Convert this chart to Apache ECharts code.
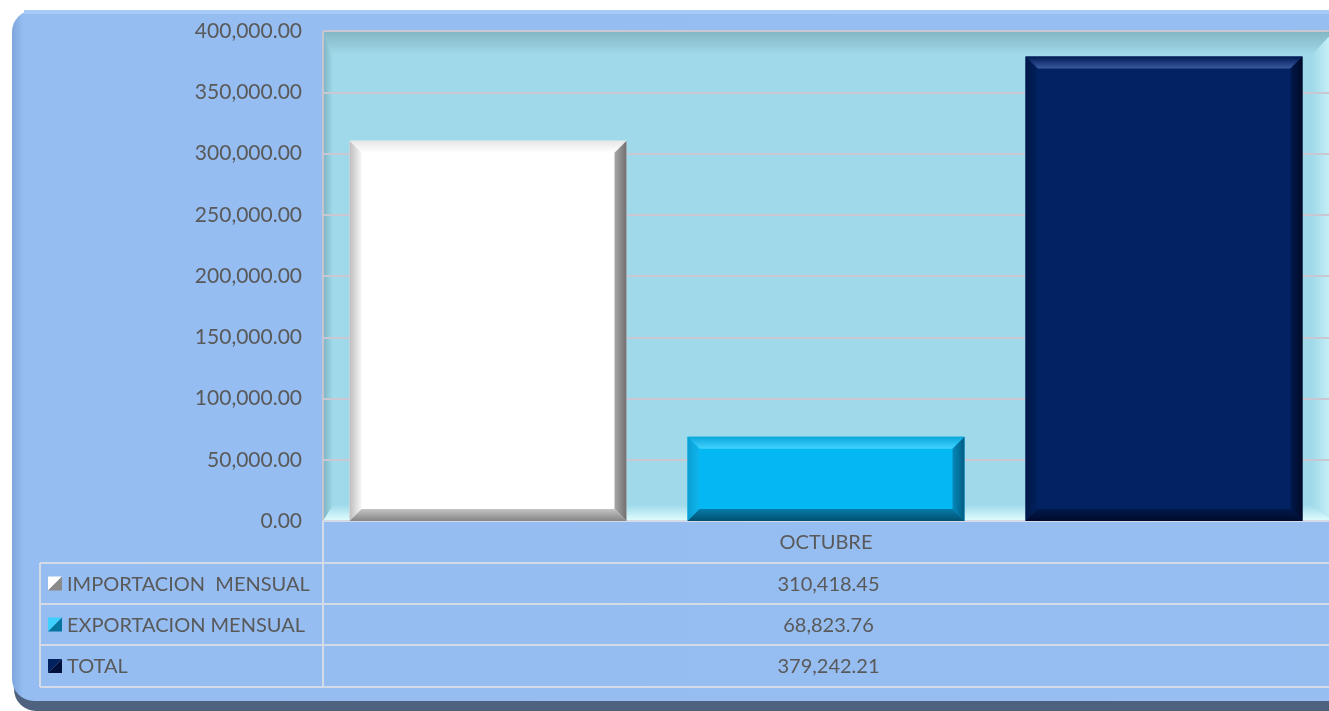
<!DOCTYPE html>
<html>
<head>
<meta charset="utf-8">
<title>Importacion / Exportacion Octubre</title>
<script src="https://cdn.jsdelivr.net/npm/echarts@6/dist/echarts.min.js"></script>
<style>
  html, body { margin: 0; padding: 0; background: #ffffff; }
  #chart { width: 1329px; height: 711px; }
</style>
</head>
<body>
<div id="chart"></div>
<script>
// data
const categories = ['OCTUBRE']
const seriesNames = ['IMPORTACION  MENSUAL', 'EXPORTACION MENSUAL', 'TOTAL']
const importacion = [310418.45]
const exportacion = [68823.76]
const total = [379242.21]
const yMin = 0
const yMax = 400000
const yInterval = 50000

const allSeries = [importacion, exportacion, total]

// layout
const FONT = 'Lato'
const TEXT = '#595959'
const PLOT = { left: 323, top: 31, width: 1011, height: 490 }
const BAR_W = 277
const BAR_GAP = 61
const BEVEL = 12
const ROWS = [521, 563, 604, 645, 687]
const LINE = '#D4DAE6'

// bevel colours: face, then [outer, inner] for each edge
const palettes = [
  { face: '#FFFFFF', top: ['#E6E6E6', '#FFFFFF'], left: ['#BDBDBD', '#F7F7F7'], right: ['#707070', '#A8A8A8'], bottom: ['#858585', '#C4C4C4'] },
  { face: '#03B8F3', top: ['#0AA6DD', '#42D3FF'], left: ['#0A9ED2', '#0FB5EE'], right: ['#005C82', '#0789BB'], bottom: ['#00506F', '#077CAA'] },
  { face: '#022263', top: ['#001A52', '#3A5AA0'], left: ['#001848', '#02205E'], right: ['#000A26', '#01194C'], bottom: ['#000B2C', '#01194A'] }
]

const fmt = v => v.toLocaleString('en-US', { minimumFractionDigits: 2, maximumFractionDigits: 2 })

const grad = (x, y, x2, y2, c) => new echarts.graphic.LinearGradient(x, y, x2, y2, [
  { offset: 0, color: c[0] }, { offset: 1, color: c[1] }
])

function bevelBar(idx) {
  const p = palettes[idx]
  return function (params, api) {
    const base = api.coord([api.value(0), yMin])
    const top = api.coord([api.value(0), api.value(1)])
    const groupW = 3 * BAR_W + 2 * BAR_GAP
    const x0 = base[0] - groupW / 2 + idx * (BAR_W + BAR_GAP)
    const x1 = x0 + BAR_W
    const y0 = top[1]
    const y1 = base[1]
    const b = Math.min(BEVEL, (y1 - y0) / 2)
    return {
      type: 'group',
      children: [
        { type: 'rect', shape: { x: x0, y: y0, width: BAR_W, height: y1 - y0 }, style: { fill: p.face } },
        { type: 'polygon', shape: { points: [[x0, y0], [x1, y0], [x1 - b, y0 + b], [x0 + b, y0 + b]] }, style: { fill: grad(0, 0, 0, 1, p.top) } },
        { type: 'polygon', shape: { points: [[x0, y0], [x0 + b, y0 + b], [x0 + b, y1 - b], [x0, y1]] }, style: { fill: grad(0, 0, 1, 0, p.left) } },
        { type: 'polygon', shape: { points: [[x1, y0], [x1, y1], [x1 - b, y1 - b], [x1 - b, y0 + b]] }, style: { fill: grad(1, 0, 0, 0, p.right) } },
        { type: 'polygon', shape: { points: [[x0, y1], [x0 + b, y1 - b], [x1 - b, y1 - b], [x1, y1]] }, style: { fill: grad(0, 1, 0, 0, p.bottom) } }
      ]
    }
  }
}

// background panel and plot area bevel
const px0 = PLOT.left
const py0 = PLOT.top
const px1 = PLOT.left + PLOT.width
const py1 = PLOT.top + PLOT.height
const graphics = [
  { type: 'rect', z: -20, shape: { x: 14, y: 16, width: 1360, height: 695, r: 22 }, style: { fill: '#4E617E' } },
  { type: 'rect', z: -19, shape: { x: 12, y: 10, width: 1360, height: 691, r: 22 },
    style: { fill: new echarts.graphic.LinearGradient(0, 0, 1, 0, [
      { offset: 0, color: '#7EA5DC' }, { offset: 0.008, color: '#95BDF1' }, { offset: 1, color: '#96BEF1' }
    ]) } },
  { type: 'rect', z: -18, shape: { x: 24, y: 10, width: 1350, height: 4 }, style: { fill: '#A7CBF6' } },
  { type: 'rect', z: -15, shape: { x: px0, y: py0, width: PLOT.width, height: PLOT.height }, style: { fill: '#A0DAEA' } },
  { type: 'polygon', z: -14, shape: { points: [[px0, py0], [px1, py0], [px1 - 22, py0 + 24], [px0 + 10, py0 + 24]] }, style: { fill: grad(0, 0, 0, 1, ['#82B5C3', '#A0DAEA']) } },
  { type: 'polygon', z: -14, shape: { points: [[px0, py0], [px0 + 10, py0 + 24], [px0 + 10, py1 - 16], [px0, py1]] }, style: { fill: grad(0, 0, 1, 0, ['#7DB3C1', '#A0DAEA']) } },
  { type: 'polygon', z: -14, shape: { points: [[px0, py1], [px0 + 10, py1 - 16], [px1 - 22, py1 - 16], [px1, py1]] }, style: { fill: grad(0, 1, 0, 0, ['#E2FEFF', '#A0DAEA']) } },
  { type: 'polygon', z: -14, shape: { points: [[px1, py0], [px1, py1], [px1 - 22, py1 - 16], [px1 - 22, py0 + 24]] }, style: { fill: grad(1, 0, 0, 0, ['#CFF4FA', '#A0DAEA']) } },
  { type: 'rect', z: -13, shape: { x: px0, y: py0 - 1, width: PLOT.width, height: 2 }, style: { fill: '#C6BFCB' } },
  { type: 'rect', z: -13, shape: { x: px0 - 1, y: py0, width: 2, height: PLOT.height }, style: { fill: '#C6C6D0' } }
]

// data table
const tableRight = 1340
for (let r = 1; r < ROWS.length; r++) {
  graphics.push({ type: 'line', z: 20, shape: { x1: 40, y1: ROWS[r], x2: tableRight, y2: ROWS[r] }, style: { stroke: LINE, lineWidth: 2 } })
}
graphics.push({ type: 'line', z: 20, shape: { x1: 40, y1: ROWS[1], x2: 40, y2: ROWS[4] }, style: { stroke: LINE, lineWidth: 2 } })
graphics.push({ type: 'line', z: 20, shape: { x1: px0, y1: ROWS[0], x2: px0, y2: ROWS[4] }, style: { stroke: LINE, lineWidth: 2 } })

const keyColors = [['#FFFFFF', '#8A8A8A'], ['#3FD0FF', '#03759F'], ['#02225F', '#00103A']]
seriesNames.forEach((name, i) => {
  const cy = (ROWS[i + 1] + ROWS[i + 2]) / 2
  const k = 14
  const kx = 48
  const ky = cy - k / 2
  graphics.push({ type: 'polygon', z: 21, shape: { points: [[kx, ky], [kx + k, ky], [kx, ky + k]] }, style: { fill: keyColors[i][0] } })
  graphics.push({ type: 'polygon', z: 21, shape: { points: [[kx + k, ky], [kx + k, ky + k], [kx, ky + k]] }, style: { fill: keyColors[i][1] } })
  graphics.push({ type: 'text', z: 21, x: 67, y: cy + 1, style: { text: name, fill: TEXT, font: '20px ' + FONT, textVerticalAlign: 'middle' } })
  graphics.push({ type: 'text', z: 21, x: px0 + PLOT.width / 2, y: cy + 1,
    style: { text: fmt(allSeries[i][0]), fill: TEXT, font: '20px ' + FONT, textAlign: 'center', textVerticalAlign: 'middle' } })
})

const chart = echarts.init(document.getElementById('chart'), null, { renderer: 'canvas' })

chart.setOption({
  animation: false,
  backgroundColor: '#ffffff',
  textStyle: { fontFamily: FONT },
  grid: { left: PLOT.left, top: PLOT.top, width: PLOT.width, height: PLOT.height, containLabel: false },
  xAxis: {
    type: 'category',
    data: categories,
    z: 5,
    axisLine: { show: true, lineStyle: { color: LINE, width: 2 } },
    axisTick: { show: false },
    axisLabel: { color: TEXT, fontSize: 20, fontFamily: FONT, margin: 12 },
    splitLine: { show: false }
  },
  yAxis: {
    type: 'value',
    min: yMin,
    max: yMax,
    interval: yInterval,
    z: 1,
    axisLine: { show: false },
    axisTick: { show: false },
    axisLabel: { color: TEXT, fontSize: 21, fontFamily: FONT, margin: 21, formatter: fmt },
    splitLine: { show: true, lineStyle: { color: '#C9C7D2', width: 2 } }
  },
  graphic: { elements: graphics },
  series: allSeries.map((arr, i) => ({
    name: seriesNames[i],
    type: 'custom',
    z: 10,
    renderItem: bevelBar(i),
    encode: { x: 0, y: 1 },
    data: arr.map((v, j) => [j, v])
  }))
})
</script>
</body>
</html>
